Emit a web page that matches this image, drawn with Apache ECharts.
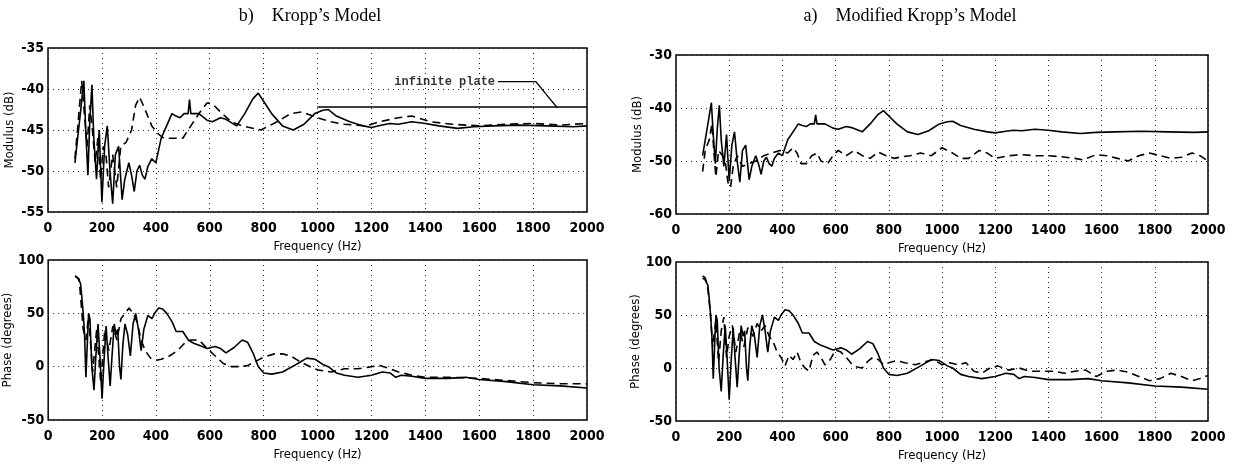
<!DOCTYPE html>
<html>
<head>
<meta charset="utf-8">
<script src="https://cdn.jsdelivr.net/npm/echarts@6/dist/echarts.min.js"></script>
<style>
  html, body {margin: 0; padding: 0; background: #fff;}
  #main {width: 1233px; height: 472px;}
</style>
</head>
<body>
<div id="main"></div>
<script>
// measured modulus (dB) - solid, same in both panels
const modMeasured = [
  [100,-49],[110,-46],[120,-43],[128,-40.5],[133,-39],[140,-45],[148,-50.5],[155,-44],[163,-39.5],[170,-46],
  [180,-51],[190,-45],[200,-53.8],[210,-47],[220,-44.5],[230,-50],[240,-54],[250,-48],[262,-47],[275,-53.5],
  [285,-51],[300,-49],[310,-50.5],[320,-52.5],[330,-50],[340,-49.3],[350,-50.5],[360,-51],[370,-49.5],[385,-48.5],
  [400,-49],[420,-46],[440,-44.5],[460,-43],[475,-43.3],[490,-43.5],[505,-43],[520,-43],[525,-41.3],[530,-43],
  [560,-43],[590,-43.8],[610,-44],[640,-43.5],[660,-43.7],[700,-44.5],[730,-43],[760,-41.2],[780,-40.5],[800,-41.5],
  [830,-43],[870,-44.5],[910,-45],[950,-44.3],[990,-43],[1020,-42.6],[1040,-42.5],[1070,-43.3],[1120,-44],[1170,-44.5],
  [1200,-44.7],[1240,-44.4],[1270,-44.2],[1300,-44.3],[1350,-44],[1400,-44.2],[1450,-44.5],[1520,-44.8],[1580,-44.6],[1650,-44.5],
  [1750,-44.4],[1850,-44.5],[1950,-44.6],[2000,-44.5]
];

// Kropp's model modulus (dB) - dashed
const modKropp = [
  [100,-48.5],[112,-44],[125,-39],[135,-43],[145,-47],[155,-42],[165,-45],[175,-49],[185,-46],[195,-51],
  [205,-47],[215,-48],[225,-52],[240,-48],[255,-52],[270,-47],[290,-46.5],[310,-45],[325,-42],[340,-41],
  [360,-42.5],[385,-44.5],[410,-45.5],[430,-46],[470,-46],[500,-46],[530,-44.5],[560,-43],[590,-41.7],[610,-41.8],
  [640,-42.8],[680,-44],[720,-44.5],[790,-45],[850,-44],[900,-43],[940,-42.8],[1000,-43.5],[1050,-44],[1100,-44.3],
  [1180,-44.5],[1230,-44],[1300,-43.5],[1350,-43.3],[1420,-44],[1500,-44.3],[1600,-44.5],[1700,-44.3],[1800,-44.2],[1900,-44.4],
  [2000,-44.2]
];

// modified Kropp's model modulus (dB) - dashed
const modModified = [
  [100,-52],[110,-48],[125,-46],[135,-43],[145,-50],[150,-53],[160,-48],[175,-49],[185,-50],[195,-54],
  [205,-55],[215,-51],[230,-49],[250,-51],[275,-50.5],[300,-50],[330,-49],[360,-48.5],[390,-48],[420,-48.5],
  [440,-47.5],[455,-48.5],[470,-50.5],[490,-50.5],[510,-49],[530,-48.5],[545,-50],[570,-50.5],[590,-49],[610,-48],
  [640,-49],[670,-48],[700,-49],[730,-49.5],[760,-48.3],[790,-49],[820,-49.5],[850,-49.2],[880,-49],[920,-48.5],
  [960,-49],[1000,-47.5],[1040,-48.5],[1070,-49.5],[1100,-49.5],[1140,-48],[1170,-48.5],[1200,-49.5],[1250,-49],[1300,-48.8],
  [1350,-49],[1400,-49],[1450,-49.2],[1500,-49.5],[1530,-49.8],[1580,-48.8],[1620,-49],[1660,-49.5],[1700,-50],[1740,-49],
  [1780,-48.5],[1820,-49],[1860,-49.5],[1900,-49.3],[1940,-48.5],[1970,-49],[2000,-50]
];

// infinite plate level (dB) and its callout
const infinitePlate = [[1000,-42.2],[2000,-42.2]];
const plateCallout = [[1670,-39.1],[1810,-39.1],[1890,-42.3]];
const plateLabel = 'infinite plate';

// measured phase (degrees) - solid
const phaseMeasured = [
  [100,85],[110,83],[120,78],[125,65],[130,50],[135,30],[140,-10],[145,20],[150,50],[155,45],
  [162,0],[170,-22],[177,10],[185,40],[192,10],[200,-30],[207,5],[215,38],[222,10],[230,-18],
  [237,10],[245,40],[252,30],[258,35],[265,0],[270,-12],[277,20],[285,40],[295,30],[305,10],
  [315,40],[325,50],[335,35],[345,15],[355,35],[370,48],[385,45],[395,50],[410,55],[425,54],
  [440,50],[460,42],[475,33],[500,33],[520,25],[540,22],[560,20],[590,17],[620,19],[640,17],
  [660,13],[690,18],[720,25],[740,23],[760,13],[780,0],[800,-6],[830,-7],[870,-5],[920,2],
  [960,8],[990,7],[1020,2],[1040,0],[1070,-6],[1100,-8],[1150,-10],[1200,-8],[1240,-5],[1270,-6],
  [1290,-10],[1310,-8],[1350,-9],[1400,-11],[1480,-11],[1550,-10],[1600,-12],[1700,-14],[1800,-17],[1900,-18],
  [2000,-20]
];

// Kropp's model phase (degrees) - dashed
const phaseKropp = [
  [100,85],[115,82],[130,35],[140,25],[150,48],[165,-5],[180,35],[195,-15],[210,35],[225,15],
  [240,38],[255,25],[270,45],[285,50],[300,55],[315,50],[330,42],[345,25],[360,15],[380,8],
  [400,6],[420,7],[450,10],[480,15],[510,23],[530,25],[560,25],[590,17],[620,10],[650,3],
  [680,0],[710,0],[740,1],[770,5],[800,9],[840,12],[870,12],[900,10],[940,4],[980,-1],
  [1000,-3],[1050,-5],[1100,-2],[1150,-2],[1200,0],[1230,1],[1270,-2],[1300,-5],[1350,-8],[1400,-10],
  [1500,-10],[1600,-11],[1700,-13],[1800,-15],[1900,-16],[2000,-16]
];

// modified Kropp's model phase (degrees) - dashed
const phaseModified = [
  [100,87],[110,85],[118,78],[128,55],[138,20],[150,45],[160,5],[170,35],[180,48],[190,10],
  [200,30],[212,40],[225,15],[240,35],[255,20],[270,38],[290,30],[305,42],[320,35],[335,40],
  [350,30],[365,25],[380,15],[395,10],[410,2],[425,12],[440,8],[455,15],[470,5],[485,0],
  [500,-3],[515,12],[530,15],[545,10],[560,3],[580,8],[600,17],[620,15],[640,10],[660,4],
  [680,1],[700,0],[720,6],[740,10],[760,8],[780,3],[800,5],[830,7],[860,5],[900,3],
  [940,6],[970,8],[1000,3],[1030,5],[1060,3],[1090,5],[1120,-3],[1150,-5],[1180,0],[1210,2],
  [1250,-2],[1290,0],[1330,-3],[1370,-3],[1420,-3],[1460,-5],[1500,-3],[1540,-2],[1580,-8],[1620,-3],
  [1660,-2],[1700,-4],[1740,-8],[1780,-12],[1820,-10],[1860,-5],[1900,-8],[1940,-12],[1970,-10],[2000,-7]
];

const narrow = "'Liberation Sans Narrow', 'DejaVu Sans Condensed', 'Liberation Sans'";
const tickFont = {color: '#000', fontFamily: narrow, fontSize: 14, fontWeight: 'bold'};
const nameFont = {color: '#000', fontFamily: narrow, fontSize: 13};
const dotted = {show: true, lineStyle: {type: [1, 4], color: '#222', width: 1}};

const grids = [
  {left: 48, top: 48, width: 539, height: 164},
  {left: 48, top: 260, width: 539, height: 160},
  {left: 676, top: 55, width: 532, height: 159},
  {left: 676, top: 262, width: 532, height: 159},
].map(g => ({...g, show: true, borderColor: '#000', borderWidth: 1.5, backgroundColor: '#fff'}));

const xAxes = [0, 1, 2, 3].map(i => ({
  type: 'value', gridIndex: i, min: 0, max: 2000, interval: 200,
  name: 'Frequency (Hz)', nameLocation: 'middle', nameGap: 28, nameTextStyle: nameFont,
  axisLine: {show: false}, axisTick: {show: false},
  axisLabel: {...tickFont, margin: 9, formatter: v => String(v)},
  splitLine: dotted,
}));

const yAxis = (i, min, max, interval, name) => ({
  type: 'value', gridIndex: i, min, max, interval,
  name, nameLocation: 'middle', nameGap: 32, nameRotate: 90, nameTextStyle: nameFont,
  axisLine: {show: false}, axisTick: {show: false},
  axisLabel: {...tickFont, margin: 4, formatter: v => String(v)},
  splitLine: dotted,
});

const yAxes = [
  yAxis(0, -55, -35, 5, 'Modulus (dB)'),
  yAxis(1, -50, 100, 50, 'Phase (degrees)'),
  yAxis(2, -60, -30, 10, 'Modulus (dB)'),
  yAxis(3, -50, 100, 50, 'Phase (degrees)'),
];

const solid = (data, i) => ({
  type: 'line', data, xAxisIndex: i, yAxisIndex: i, symbol: 'none', silent: true,
  lineStyle: {color: '#000', width: 1.6},
});
const dashed = (data, i) => ({
  type: 'line', data, xAxisIndex: i, yAxisIndex: i, symbol: 'none', silent: true,
  lineStyle: {color: '#000', width: 1.6, type: [8, 5]},
});

const titleFont = {fontFamily: 'Liberation Serif', fontWeight: 'normal', fontSize: 18, color: '#000'};

const chart = echarts.init(document.getElementById('main'), null, {renderer: 'canvas'});
chart.setOption({
  animation: false,
  backgroundColor: '#fff',
  title: [
    {text: "b)    Kropp\u2019s Model", left: 305, top: 2, textAlign: 'center', textStyle: titleFont},
    {text: "a)    Modified Kropp\u2019s Model", left: 905, top: 2, textAlign: 'center', textStyle: titleFont},
  ],
  grid: grids,
  xAxis: xAxes,
  yAxis: yAxes,
  series: [
    solid(modMeasured, 0),
    dashed(modKropp, 0),
    {...solid(infinitePlate, 0), lineStyle: {color: '#000', width: 1.4}},
    {...solid(plateCallout, 0), lineStyle: {color: '#000', width: 1.4}},
    {
      type: 'scatter', xAxisIndex: 0, yAxisIndex: 0, symbolSize: 0, silent: true,
      data: [plateCallout[0]],
      label: {show: true, position: 'left', distance: 3, formatter: plateLabel,
        fontFamily: "'Liberation Mono', 'DejaVu Sans Mono', monospace", fontSize: 12, fontWeight: 'bold', color: '#000'},
    },
    solid(phaseMeasured, 1),
    dashed(phaseKropp, 1),
    solid(modMeasured, 2),
    dashed(modModified, 2),
    solid(phaseMeasured, 3),
    dashed(phaseModified, 3),
  ],
});
</script>
</body>
</html>
